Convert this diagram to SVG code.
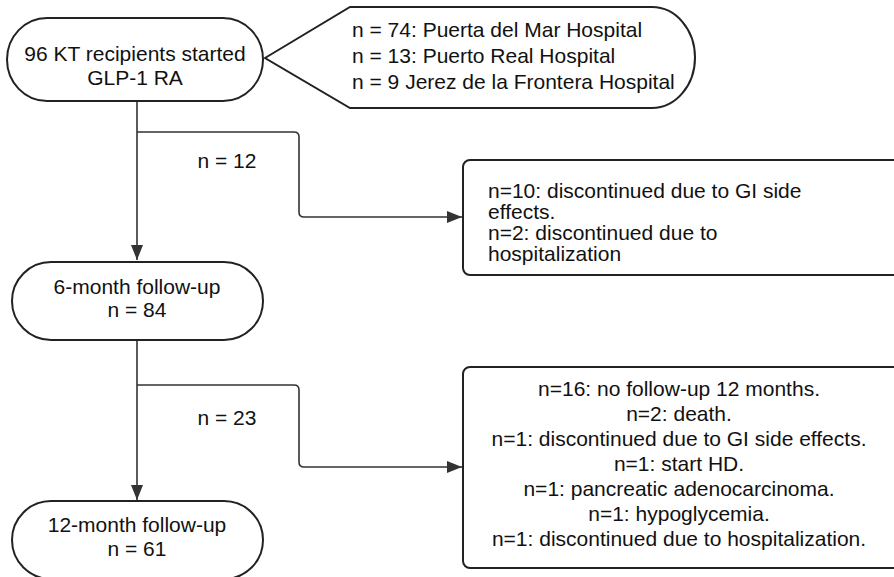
<svg xmlns="http://www.w3.org/2000/svg" width="894" height="577" viewBox="0 0 894 577">
<defs>
<marker id="arr" viewBox="0 0 15 12" refX="15" refY="6" markerWidth="15" markerHeight="12" markerUnits="userSpaceOnUse" orient="auto">
<path d="M0,0 L15,6 L0,12 Z" fill="#333"/>
</marker>
<style>
text{font-family:"Liberation Sans",Arial,Helvetica,sans-serif;font-size:21px;fill:#111}
.node{fill:#fff;stroke:#222;stroke-width:2}
.conn{fill:none;stroke:#333;stroke-width:1.6}
.mid{text-anchor:middle}
</style>
</defs>
<rect width="894" height="577" fill="#fff"/>
<g id="connectors">
<path class="conn" d="M137,100 L137,260" marker-end="url(#arr)"/>
<path class="conn" d="M137,132 L294,132 Q299,132 299,137 L299,212 Q299,217 304,217 L462,217" marker-end="url(#arr)"/>
<path class="conn" d="M137,340 L137,500" marker-end="url(#arr)"/>
<path class="conn" d="M137,385 L294,385 Q299,385 299,390 L299,462 Q299,467 304,467 L462,467" marker-end="url(#arr)"/>
<text x="227" y="168" class="mid">n = 12</text>
<text x="227" y="425" class="mid">n = 23</text>
</g>
<g id="start">
<rect class="node" x="7" y="18" width="256" height="83" rx="40" ry="41.5"/>
<text x="135" y="61" class="mid">96 KT recipients started</text>
<text x="135" y="85" class="mid">GLP-1 RA</text>
</g>
<g id="hospitals">
<path class="node" d="M265,58 L350,7 L652,7 A43,50.5 0 0 1 652,108 L350,108 Z"/>
<text x="352" y="37">n = 74: Puerta del Mar Hospital</text>
<text x="352" y="63">n = 13: Puerto Real Hospital</text>
<text x="352" y="89">n = 9 Jerez de la Frontera Hospital</text>
</g>
<g id="exclusion1">
<rect class="node" x="463" y="160" width="440" height="115" rx="7"/>
<text x="488" y="198">n=10: discontinued due to GI side</text>
<text x="488" y="219">effects.</text>
<text x="488" y="240">n=2: discontinued due to</text>
<text x="488" y="261">hospitalization</text>
</g>
<g id="month6">
<rect class="node" x="12" y="262" width="251" height="78" rx="39" ry="39"/>
<text x="137" y="294" class="mid">6-month follow-up</text>
<text x="137" y="317" class="mid">n = 84</text>
</g>
<g id="exclusion2">
<rect class="node" x="463" y="367" width="440" height="201" rx="7"/>
<text x="679" y="396" class="mid">n=16: no follow-up 12 months.</text>
<text x="679" y="421" class="mid">n=2: death.</text>
<text x="679" y="446" class="mid">n=1: discontinued due to GI side effects.</text>
<text x="679" y="471" class="mid">n=1: start HD.</text>
<text x="679" y="496" class="mid">n=1: pancreatic adenocarcinoma.</text>
<text x="679" y="521" class="mid">n=1: hypoglycemia.</text>
<text x="679" y="546" class="mid">n=1: discontinued due to hospitalization.</text>
</g>
<g id="month12">
<rect class="node" x="12" y="501" width="251" height="78" rx="39" ry="39"/>
<text x="137" y="532" class="mid">12-month follow-up</text>
<text x="137" y="556" class="mid">n = 61</text>
</g>
</svg>
